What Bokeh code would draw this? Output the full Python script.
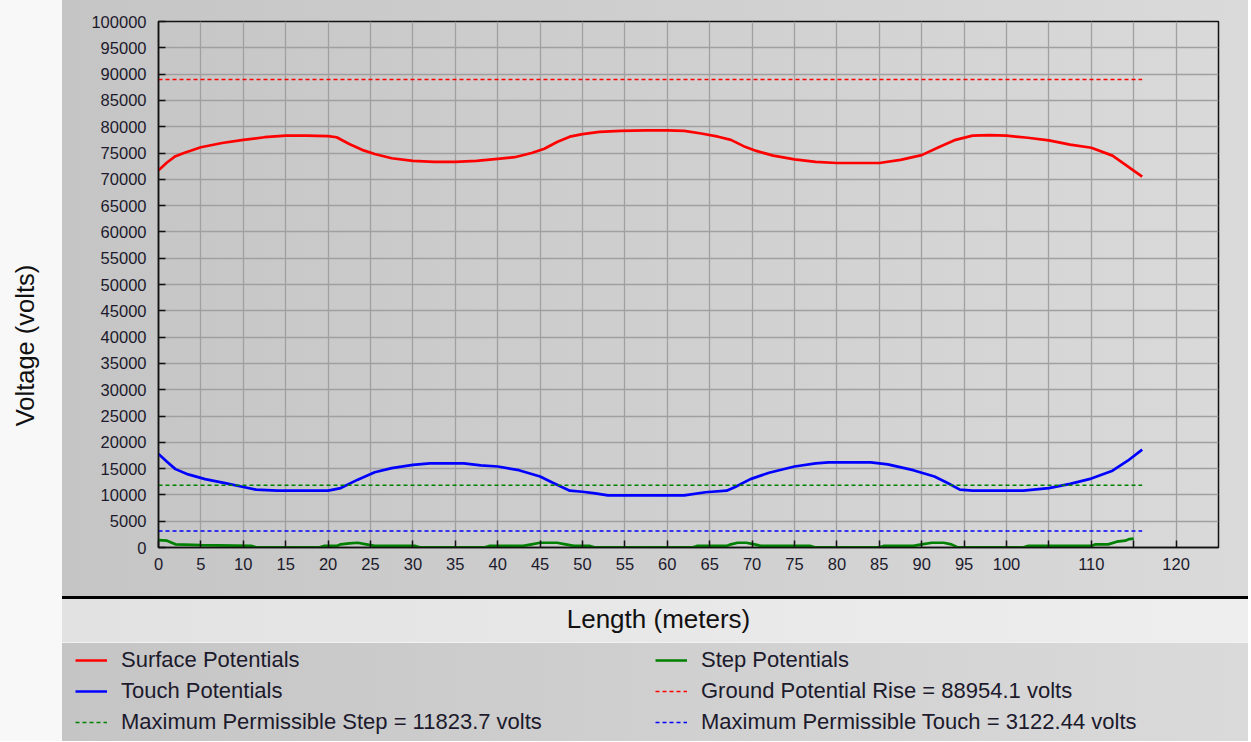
import numpy as np
from bokeh.plotting import figure
from bokeh.models import (Range1d, FixedTicker, NumeralTickFormatter, Legend,
                          LegendItem, Label)
from bokeh.layouts import column, row
from bokeh.embed import file_html
from bokeh.resources import INLINE
from bokeh.core.properties import value

# ---------------- data ----------------
surface_x = [0, 1, 2, 3, 5, 7.5, 10, 12.5, 15, 17.5, 20, 21, 22.5, 24, 25.5, 27.5,
             30, 32.5, 35, 37.5, 40, 42, 44, 45.5, 47, 48.5, 50, 52, 54.5, 57.5,
             60, 62, 64, 66, 67.5, 69, 70.5, 72.5, 75, 77.5, 80, 82.5, 85, 87.5,
             90, 92, 94, 96, 98, 100, 102.5, 105, 107.5, 110, 112.5, 114, 116]
surface_v = [71700, 73200, 74400, 75000, 76100, 76900, 77500, 78000, 78300, 78300,
             78200, 78000, 76700, 75600, 74800, 74000, 73500, 73300, 73300, 73500,
             73900, 74200, 75000, 75800, 77100, 78100, 78600, 79000, 79200, 79300,
             79300, 79200, 78700, 78100, 77500, 76300, 75400, 74500, 73800, 73300,
             73100, 73100, 73100, 73700, 74600, 76100, 77500, 78300, 78400, 78300,
             77900, 77400, 76600, 76000, 74500, 72800, 70500]

touch_x = [0, 1, 2, 3.5, 5.5, 8, 10, 11.5, 14, 20, 21.5, 23.5, 25.5, 27.5, 30, 32,
           36, 38, 40, 42.5, 45, 46.5, 48.5, 50, 51.5, 53, 62, 64.5, 67, 68, 69.8,
           72, 75, 77.5, 79, 84, 86, 89, 91.5, 93, 94.5, 96, 102, 105, 107.5, 110,
           112.5, 114.3, 116]
touch_v = [17800, 16300, 14900, 13900, 13000, 12200, 11500, 11000, 10800, 10800,
           11300, 12900, 14300, 15100, 15700, 16000, 16000, 15600, 15400, 14700,
           13500, 12300, 10800, 10600, 10300, 9900, 9900, 10500, 10800, 11500,
           13000, 14200, 15400, 16000, 16200, 16200, 15800, 14700, 13500, 12300,
           11000, 10800, 10800, 11300, 12100, 13100, 14600, 16500, 18600]

step_x = [0, 1, 2, 4, 5, 11, 11.5, 19, 19.5, 21, 21.5, 22.5, 23.5, 24.5, 25.5,
          30.3, 30.8, 38.5, 39, 43, 44, 45, 47, 48, 49, 50.9, 51.4, 63, 63.5, 67,
          67.5, 68.3, 69.3, 70.3, 71, 76.9, 77.4, 85, 85.5, 89, 90, 91.2, 92.6,
          93.5, 94.2, 102, 102.5, 110, 110.5, 112, 113, 114, 114.5, 115]
step_v = [1400, 1300, 600, 500, 450, 300, 50, 50, 300, 300, 600, 800, 900, 600, 300,
          300, 50, 50, 300, 300, 600, 900, 900, 600, 300, 300, 50, 50, 300, 300,
          600, 900, 900, 600, 300, 300, 50, 50, 300, 300, 600, 900, 900,
          600, 50, 50, 300, 300, 600, 600, 1100, 1300, 1600, 1700]

profile_length = 116
gpr_volts = 88954.1
max_step_volts = 11823.7
max_touch_volts = 3122.44

x_ticks = list(range(0, 125, 5))
x_hidden_labels = {105: "", 115: ""}
y_ticks = list(range(0, 100001, 5000))

legend_left_labels = ["Surface Potentials", "Touch Potentials",
                      "Maximum Permissible Step = 11823.7 volts"]
legend_right_labels = ["Step Potentials", "Ground Potential Rise = 88954.1 volts",
                       "Maximum Permissible Touch = 3122.44 volts"]

FONT = "Liberation Sans"
RED, BLUE, GREEN = "#ff0000", "#0000ff", "#008000"
TXT = "#1c1a2c"
W = 1248
STRIP_W = 62
TOP_H = 596
STRIP = "#f8f8f8 0px, #f8f8f8 62px"
PANEL_BG = "linear-gradient(90deg, #c5c5c5 0%, #cfcfcf 50%, #dadada 100%)"
LEG_BG = ("linear-gradient(#f2f2f2, #f2f2f2) 62px 0 / 100% 1px no-repeat, "
          "linear-gradient(90deg, " + STRIP + ", #c5c5c5 62px, #cfcfcf 50%, #dadada 100%)")
BAND_BG = ("linear-gradient(#000, #000) 62px 0 / 100% 3px no-repeat, "
           "linear-gradient(90deg, " + STRIP + ", #e2e2e2 62px, #eeeeee 100%)")
DASH_W = 1.5


def bare(fig):
    fig.grid.visible = False
    fig.outline_line_color = None
    fig.background_fill_alpha = 0
    fig.border_fill_alpha = 0


# ---------------- main chart ----------------
p = figure(width=W - STRIP_W, height=TOP_H, x_range=Range1d(0, 125), y_range=Range1d(0, 100000),
           output_backend="svg", toolbar_location=None,
           min_border_left=96, min_border_right=30, min_border_top=21, min_border_bottom=49)
p.background_fill_alpha = 0
p.border_fill_alpha = 0
p.styles = {"background": PANEL_BG}
p.outline_line_color = "#111111"
p.outline_line_width = 1.5

p.line(surface_x, surface_v, line_color=RED, line_width=2.7)
p.line(touch_x, touch_v, line_color=BLUE, line_width=2.7)
p.line(step_x, step_v, line_color=GREEN, line_width=2.7)
p.line([0, profile_length], [gpr_volts, gpr_volts], line_color=RED, line_width=DASH_W, line_dash="4 3")
p.line([0, profile_length], [max_step_volts, max_step_volts], line_color=GREEN, line_width=DASH_W, line_dash="4 3")
p.line([0, profile_length], [max_touch_volts, max_touch_volts], line_color=BLUE, line_width=DASH_W, line_dash="4 3")

p.xaxis.ticker = FixedTicker(ticks=x_ticks)
p.xaxis.major_label_overrides = x_hidden_labels
p.yaxis.ticker = FixedTicker(ticks=y_ticks)
p.yaxis.formatter = NumeralTickFormatter(format="0")
for ax in (p.xaxis[0], p.yaxis[0]):
    ax.major_tick_in = 7
    ax.major_tick_out = 0
    ax.major_tick_line_color = "#111111"
    ax.major_tick_line_width = 1.5
    ax.minor_tick_line_color = None
    ax.axis_line_color = "#111111"
    ax.axis_line_width = 1.5
    ax.major_label_text_font = FONT
    ax.major_label_text_font_size = "16.5px"
    ax.major_label_text_color = TXT
p.xaxis.major_label_standoff = 10
p.yaxis.major_label_standoff = 12
p.xgrid.ticker = FixedTicker(ticks=x_ticks)
p.ygrid.ticker = FixedTicker(ticks=y_ticks)
p.grid.grid_line_color = "#a0a0a0"
p.grid.grid_line_width = 1.3

# ---------------- left strip with the y title ----------------
s = figure(width=STRIP_W, height=TOP_H, x_range=Range1d(0, STRIP_W), y_range=Range1d(49, TOP_H - 21),
           output_backend="svg", toolbar_location=None, x_axis_type=None, y_axis_type=None,
           min_border_left=0, min_border_right=0, min_border_top=21, min_border_bottom=49)
bare(s)
s.styles = {"background": "#f8f8f8"}
s.add_layout(Label(x=24, y=TOP_H - 345, text="Voltage (volts)", angle=90, angle_units="deg",
                   text_align="center", text_baseline="middle", text_font=FONT,
                   text_font_size="25.5px", text_color="#111111"))

# ---------------- x title band ----------------
b = figure(width=W, height=46, x_range=Range1d(0, W), y_range=Range1d(0, 46),
           output_backend="svg", toolbar_location=None, x_axis_type=None, y_axis_type=None,
           min_border=0)
bare(b)
b.styles = {"background": BAND_BG}
b.add_layout(Label(x=658, y=24, text="Length (meters)", text_align="center",
                   text_baseline="middle", text_font=FONT, text_font_size="26px",
                   text_color="#111111"))

# ---------------- legend panel ----------------
lg = figure(width=W, height=99, x_range=Range1d(0, 1), y_range=Range1d(0, 1),
            output_backend="svg", toolbar_location=None, x_axis_type=None, y_axis_type=None,
            min_border=0)
bare(lg)
lg.styles = {"background": LEG_BG}

# renderers that only feed the legend swatches (their data lie outside this panel's ranges)
r_surf = lg.line(surface_x, surface_v, line_color=RED, line_width=2.7)
r_touch = lg.line(touch_x, touch_v, line_color=BLUE, line_width=2.7)
r_mstep = lg.line([0, profile_length], [max_step_volts, max_step_volts], line_color=GREEN, line_width=DASH_W, line_dash="4 3")
r_step = lg.line(step_x, step_v, line_color=GREEN, line_width=2.7)
r_gpr = lg.line([0, profile_length], [gpr_volts, gpr_volts], line_color=RED, line_width=DASH_W, line_dash="4 3")
r_mtouch = lg.line([0, profile_length], [max_touch_volts, max_touch_volts], line_color=BLUE, line_width=DASH_W, line_dash="4 3")


def make_legend(labels, rends, loc):
    return Legend(items=[LegendItem(label=value(t), renderers=[r]) for t, r in zip(labels, rends)],
                  location=loc, orientation="vertical", glyph_width=32, glyph_height=26,
                  label_height=26, label_standoff=14, spacing=5, padding=0, margin=0,
                  background_fill_alpha=0, border_line_color=None,
                  label_text_font=FONT, label_text_font_size="22px", label_text_color=TXT)


lg.add_layout(make_legend(legend_left_labels, [r_surf, r_touch, r_mstep], (75, 6)))
lg.add_layout(make_legend(legend_right_labels, [r_step, r_gpr, r_mtouch], (655, 6)))

layout = column(row(s, p), b, lg)
open("out.html", "w").write(file_html(layout, INLINE))
